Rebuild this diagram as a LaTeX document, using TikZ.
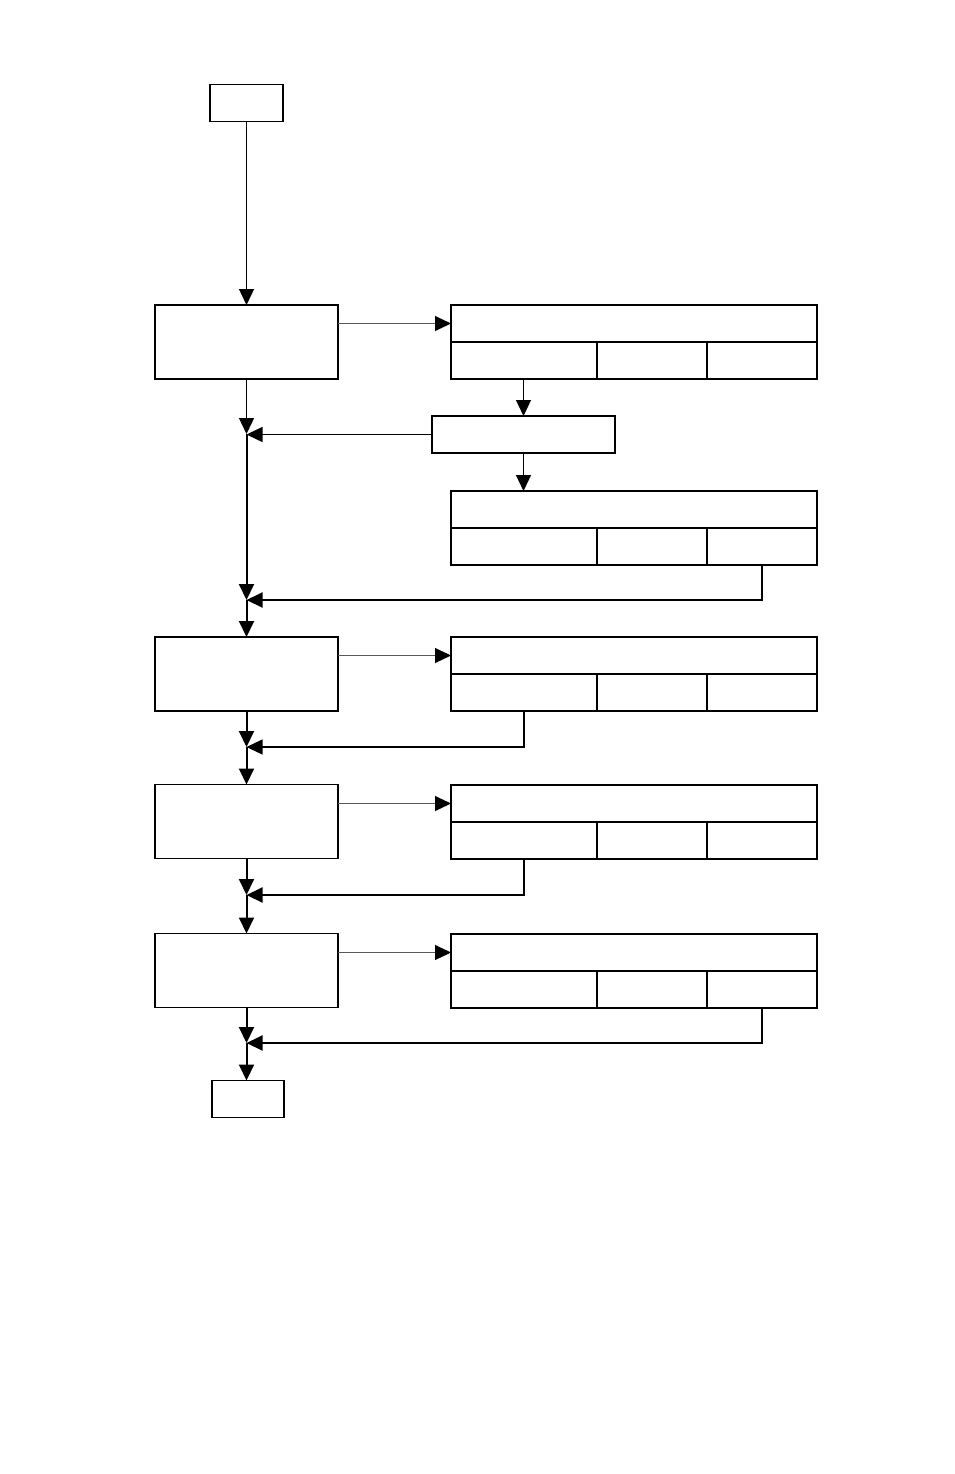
\documentclass[tikz,border=0pt]{standalone}
\usetikzlibrary{arrows.meta}

\begin{document}
\begin{tikzpicture}[
  x=1pt, y=-1pt,
  cell/.style={draw, line width=1.1pt, inner sep=0pt, outer sep=0pt, minimum height=37pt},
  stepbox/.style={draw, line width=1.1pt, inner sep=0pt, outer sep=0pt, minimum width=183pt, minimum height=74pt},
  arr/.style={-{Triangle[length=16pt, width=15pt]}, line width=2pt},
  sidearr/.style={-{Triangle[length=16pt, width=15pt, black]}, line width=1pt, draw=black!65},
]
\useasboundingbox (0,0) rectangle (954,1474);

% start and end
\node[cell, minimum width=73pt] (start)  at (246.5,103)  {};
\node[cell, minimum width=72pt] (finish) at (248,1099)   {};

% process steps on the left
\foreach \n/\y in {1/342, 2/674, 3/821.5, 4/970.5}
  \node[stepbox] (s\n) at (246.5,\y) {};

% tables on the right
\foreach \n/\y in {1/305, 2/491, 3/637, 4/785, 5/934} {
  \node[cell, minimum width=366pt] (tH\n) at (634,\y+18.5) {};
  \node[cell, minimum width=146pt] (tA\n) at (524,\y+55.5) {};
  \node[cell, minimum width=110pt] (tB\n) at (652,\y+55.5) {};
  \node[cell, minimum width=110pt] (tC\n) at (762,\y+55.5) {};
}
\node[cell, minimum width=183pt] (mid) at (523.5,434.5) {};

% junctions on the main line
\coordinate (j1) at (246.5,434);
\coordinate (j2) at (246.5,600);
\coordinate (j3) at (246.5,747);
\coordinate (j4) at (246.5,895);
\coordinate (j5) at (246.5,1043);

% main line
\draw[arr, line width=1.4pt] (start) -- (s1);
\draw[arr, line width=1.4pt] (s1) -- (j1);
\draw[arr] (j1) -- (j2);
\draw[arr] (j2) -- (s2);
\draw[arr] (s2) -- (j3);
\draw[arr] (j3) -- (s3);
\draw[arr] (s3) -- (j4);
\draw[arr] (j4) -- (s4);
\draw[arr] (s4) -- (j5);
\draw[arr] (j5) -- (j5 |- finish.north);

% steps to tables
\draw[sidearr] (s1.east |- tH1) -- (tH1.west);
\draw[sidearr] (s2.east |- tH3) -- (tH3.west);
\draw[sidearr] (s3.east |- tH4) -- (tH4.west);
\draw[sidearr] (s4.east |- tH5) -- (tH5.west);

% first table through the middle box
\draw[arr, line width=1.2pt] (mid.north |- tA1.south) -- (mid.north);
\draw[arr, line width=1.2pt] (mid.south) -- (mid.south |- tH2.north);
\draw[arr, line width=1.4pt] (mid.west) -- (mid.west -| j1);

% back to the main line
\draw[arr] (tC2.south) |- (j2);
\draw[arr, line width=1.2pt] (tA3.south) |- (j3);
\draw[arr] (tA4.south) |- (j4);
\draw[arr] (tC5.south) |- (j5);
\end{tikzpicture}
\end{document}
